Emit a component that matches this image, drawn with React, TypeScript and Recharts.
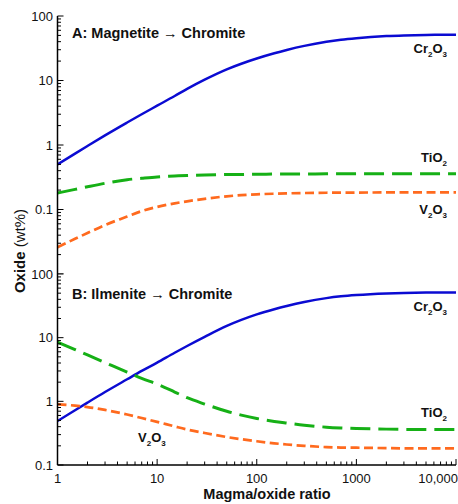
import React from 'react';
import { LineChart, Line, XAxis, YAxis } from 'recharts';

const ratios = [1, 1.5, 2, 3, 5, 7, 10, 15, 20, 30, 50, 70, 100, 150, 200, 300, 500, 700, 1000, 2000, 3000, 5000, 7000, 10000];

const magCr2O3 = [0.5, 0.736, 0.966, 1.41, 2.23, 3.0, 4.07, 5.75, 7.41, 10.3, 14.9, 18.2, 21.9, 26.4, 29.7, 34.4, 39.8, 42.8, 45.3, 48.8, 50.0, 50.9, 51.2, 51.3];
const magTiO2 = [0.18, 0.205, 0.225, 0.255, 0.29, 0.305, 0.32, 0.33, 0.337, 0.343, 0.348, 0.35, 0.352, 0.354, 0.355, 0.356, 0.357, 0.357, 0.358, 0.358, 0.358, 0.358, 0.358, 0.358];
const magV2O3 = [0.026, 0.0351, 0.0432, 0.0575, 0.0776, 0.0944, 0.1096, 0.1245, 0.134, 0.1462, 0.1603, 0.1667, 0.1718, 0.1758, 0.1778, 0.1803, 0.182, 0.1828, 0.1832, 0.1837, 0.1837, 0.1837, 0.1837, 0.1837];

const ilmCr2O3 = [0.49, 0.725, 0.955, 1.4, 2.22, 3.0, 4.05, 5.8, 7.4, 10.3, 15.3, 19.0, 23.2, 28.0, 31.5, 36.4, 41.8, 44.6, 46.8, 49.6, 50.5, 51.0, 51.2, 51.3];
const ilmTiO2 = [8.5, 6.49, 5.35, 4.06, 2.87, 2.29, 1.86, 1.4, 1.14, 0.906, 0.697, 0.608, 0.538, 0.483, 0.455, 0.421, 0.393, 0.382, 0.374, 0.366, 0.363, 0.361, 0.36, 0.36];
const ilmV2O3 = [0.9, 0.856, 0.813, 0.733, 0.62, 0.547, 0.476, 0.404, 0.361, 0.318, 0.275, 0.254, 0.236, 0.219, 0.21, 0.2, 0.191, 0.188, 0.187, 0.184, 0.183, 0.183, 0.182, 0.182];

const xMajor = [1, 10, 100, 1000, 10000];
const xLabels = ['1', '10', '100', '1000', '10,000'];
const yTopMajor = [0.01, 0.1, 1, 10, 100];
const yTopLabels = ['', '0.1', '1', '10', '100'];
const yBotMajor = [0.1, 1, 10, 100];
const yBotLabels = ['0.1', '1', '10', '100'];

const BLUE = '#0b0bd2';
const GREEN = '#16b016';
const ORANGE = '#ff6a1e';
const FONT = '"Liberation Sans", Arial, sans-serif';

function withMinors(majors: number[]): number[] {
  const out: number[] = [];
  for (let i = 0; i < majors.length; i++) {
    out.push(majors[i]);
    if (i < majors.length - 1) {
      for (let k = 2; k <= 9; k++) out.push(+(majors[i] * k).toPrecision(6));
    }
  }
  return out;
}

const isMajor = (v: number) => Math.abs(Math.log10(v) - Math.round(Math.log10(v))) < 1e-6;
const MAJ = 6;
const MIN = 3.5;

const topData = ratios.map((x, i) => ({ x, cr: magCr2O3[i], ti: magTiO2[i], v: magV2O3[i] }));
const botData = ratios.map((x, i) => ({ x, cr: ilmCr2O3[i], ti: ilmTiO2[i], v: ilmV2O3[i] }));

const makeLeftTick = (majors: number[], labels: string[]) => (props: any) => {
  const { x, y, payload } = props;
  const v = payload.value;
  const maj = isMajor(v);
  const idx = majors.findIndex((m) => Math.abs(m - v) / m < 1e-6);
  const lab = idx >= 0 ? labels[idx] : '';
  return (
    <g>
      <line x1={x} x2={x + (maj ? MAJ : MIN)} y1={y} y2={y} stroke="#000" strokeWidth={1} />
      {lab && (
        <text x={x - 4.5} y={y + 4.6} textAnchor="end" fontSize={13} fontFamily={FONT} fill="#111">
          {lab}
        </text>
      )}
    </g>
  );
};

const RightTick = (props: any) => {
  const { x, y, payload } = props;
  const maj = isMajor(payload.value);
  return <line x1={x} x2={x - (maj ? MAJ : MIN)} y1={y} y2={y} stroke="#000" strokeWidth={1} />;
};

const TopTick = (props: any) => {
  const { x, y, payload } = props;
  const maj = isMajor(payload.value);
  return <line x1={x} x2={x} y1={y} y2={y + (maj ? MAJ : MIN)} stroke="#000" strokeWidth={1} />;
};

const makeBottomTick = (showLabels: boolean) => (props: any) => {
  const { x, y, payload } = props;
  const v = payload.value;
  const maj = isMajor(v);
  const idx = xMajor.findIndex((m) => Math.abs(m - v) / m < 1e-6);
  const lab = showLabels && idx >= 0 ? xLabels[idx] : '';
  const last = idx === xMajor.length - 1;
  return (
    <g>
      <line x1={x} x2={x} y1={y} y2={y - (maj ? MAJ : MIN)} stroke="#000" strokeWidth={1} />
      {lab && (
        <text
          x={last ? 458 : x}
          y={y + 18}
          textAnchor={last ? 'end' : 'middle'}
          fontSize={13}
          fontFamily={FONT}
          fill="#111"
        >
          {lab}
        </text>
      )}
    </g>
  );
};

const xTicks = withMinors(xMajor);
const yTopTicks = withMinors(yTopMajor);
const yBotTicks = withMinors(yBotMajor);
const axisLine = { stroke: '#000', strokeWidth: 1.5 };

function Panel(props: {
  data: any[];
  height: number;
  top: number;
  marginTop: number;
  bottomH: number;
  yDomain: [number, number];
  yTicks: number[];
  yMajors: number[];
  yLabels: string[];
  showX: boolean;
}) {
  const { data, height, top, marginTop, bottomH, yDomain, yTicks, yMajors, yLabels, showX } = props;
  return (
    <div style={{ position: 'absolute', left: 0, top }}>
      <LineChart width={458} height={height} data={data} margin={{ top: marginTop, right: 2, bottom: 0, left: 0 }}>
        <XAxis
          dataKey="x"
          type="number"
          scale="log"
          domain={[1, 10000]}
          allowDataOverflow
          ticks={xTicks}
          interval={0}
          tickSize={0}
          tickMargin={0}
          tickLine={false}
          axisLine={axisLine}
          height={bottomH}
          tick={makeBottomTick(showX)}
        />
        <XAxis
          xAxisId="top"
          orientation="top"
          dataKey="x"
          type="number"
          scale="log"
          domain={[1, 10000]}
          allowDataOverflow
          ticks={xTicks}
          interval={0}
          tickSize={0}
          tickMargin={0}
          tickLine={false}
          axisLine={axisLine}
          height={0}
          tick={TopTick}
        />
        <YAxis
          type="number"
          scale="log"
          domain={yDomain}
          allowDataOverflow
          ticks={yTicks}
          interval={0}
          tickSize={0}
          tickMargin={0}
          tickLine={false}
          axisLine={axisLine}
          width={57.5}
          tick={makeLeftTick(yMajors, yLabels)}
        />
        <YAxis
          yAxisId="right"
          orientation="right"
          type="number"
          scale="log"
          domain={yDomain}
          allowDataOverflow
          ticks={yTicks}
          interval={0}
          tickSize={0}
          tickMargin={0}
          tickLine={false}
          axisLine={axisLine}
          width={0}
          tick={RightTick}
        />
        <Line dataKey="cr" type="monotone" stroke={BLUE} strokeWidth={2.5} dot={false} isAnimationActive={false} />
        <Line dataKey="ti" type="monotone" stroke={GREEN} strokeWidth={3} strokeDasharray="20 8" dot={false} isAnimationActive={false} />
        <Line dataKey="v" type="monotone" stroke={ORANGE} strokeWidth={2.7} strokeDasharray="9 4.5" dot={false} isAnimationActive={false} />
      </LineChart>
    </div>
  );
}

// parts: [text, isSubscript]
const Formula = (p: { x: number; y: number; parts: [string, boolean][]; anchor?: string }) => {
  let prevSub = false;
  return (
    <text x={p.x} y={p.y} textAnchor={p.anchor || 'end'} fontSize={13} fontWeight="bold" fontFamily={FONT} fill="#111">
      {p.parts.map(([t, sub], i) => {
        const dy = sub && !prevSub ? 4 : !sub && prevSub ? -4 : 0;
        prevSub = sub;
        return (
          <tspan key={i} dy={dy} fontSize={sub ? 8 : 13}>
            {t}
          </tspan>
        );
      })}
    </text>
  );
};

export default function App() {
  return (
    <div style={{ position: 'absolute', left: 0, top: 0, width: 458, height: 504, background: '#fff', overflow: 'hidden' }}>
      <Panel data={topData} height={274} top={0} marginTop={16} bottomH={0} yDomain={[0.01, 100]} yTicks={yTopTicks} yMajors={yTopMajor} yLabels={yTopLabels} showX={false} />
      <Panel data={botData} height={240} top={264} marginTop={10} bottomH={39} yDomain={[0.1, 100]} yTicks={yBotTicks} yMajors={yBotMajor} yLabels={yBotLabels} showX={true} />
      <svg width={458} height={504} style={{ position: 'absolute', left: 0, top: 0, pointerEvents: 'none' }}>
        <text x={72} y={38} fontSize={14.5} fontWeight="bold" fontFamily={FONT} fill="#111">
          A: Magnetite → Chromite
        </text>
        <text x={72} y={299} fontSize={14.5} fontWeight="bold" fontFamily={FONT} fill="#111">
          B: Ilmenite → Chromite
        </text>
        <Formula x={447} y={53} parts={[['Cr', false], ['2', true], ['O', false], ['3', true]]} />
        <Formula x={447} y={162} parts={[['TiO', false], ['2', true]]} />
        <Formula x={447} y={214} parts={[['V', false], ['2', true], ['O', false], ['3', true]]} />
        <Formula x={447} y={311} parts={[['Cr', false], ['2', true], ['O', false], ['3', true]]} />
        <Formula x={447} y={417} parts={[['TiO', false], ['2', true]]} />
        <Formula x={138} y={442} anchor="start" parts={[['V', false], ['2', true], ['O', false], ['3', true]]} />
        <text x={267} y={499} textAnchor="middle" fontSize={14.5} fontWeight="bold" fontFamily={FONT} fill="#111">
          Magma/oxide ratio
        </text>
        <text
          transform="translate(25, 251) rotate(-90)"
          textAnchor="middle"
          fontSize={15}
          fontFamily={FONT}
          fill="#111"
        >
          <tspan fontWeight="bold">Oxide</tspan>
          <tspan> (wt%)</tspan>
        </text>
      </svg>
    </div>
  );
}
